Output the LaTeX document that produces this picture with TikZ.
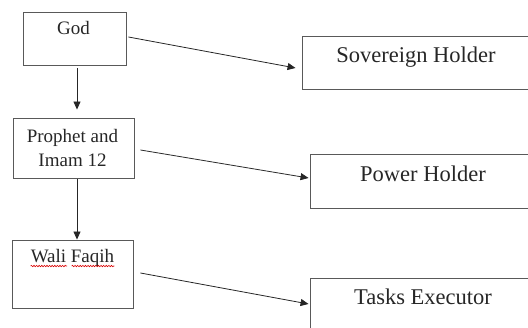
\documentclass[tikz,border=0pt]{standalone}
\usepackage{fontspec}
\setmainfont{Liberation Serif}
\usetikzlibrary{arrows.meta,calc,decorations.pathmorphing}
\begin{document}
\begin{tikzpicture}[x=1pt,y=-1pt,
 box/.style={draw=black!65, line width=0.9pt, inner sep=0pt, rectangle},
 ltext/.style={font=\fontsize{19}{24.5}\selectfont, text=black!85, align=center, inner sep=0pt, anchor=base},
 rtext/.style={font=\fontsize{22.5}{27}\selectfont, text=black!85, inner sep=0pt, anchor=base},
 arr/.style={draw=black!85, line width=0.8pt, -{Triangle[length=8pt,width=7pt]}},
 wave/.style={draw=red!85!black, line width=0.6pt, decorate, decoration={snake, amplitude=0.7pt, segment length=2.6pt}}
]
\useasboundingbox (0,0) rectangle (528,328);
\clip (0,0) rectangle (528,328);

% boxes
\node[box, minimum width=103pt, minimum height=53pt] (god) at (74.5,38.5) {};
\node[box, minimum width=121pt, minimum height=60pt] (proph) at (73.5,148) {};
\node[box, minimum width=121pt, minimum height=68pt] (wali) at (72.5,274) {};
\node[box, minimum width=228pt, minimum height=53pt] (sov) at (416,62.5) {};
\node[box, minimum width=226pt, minimum height=54pt] (pow) at (423,181) {};
\node[box, minimum width=226pt, minimum height=56pt] (task) at (423,306) {};

% texts
\node[ltext] (godt) at ($(god.north)+(-1,23)$) {God};
\node[ltext] (propht) at ($(proph.north)+(-1,49)$) {Prophet and\\Imam 12};
\node[ltext] (walit) at ($(wali.north)+(0,23)$) {Wali Faqih};
\node[rtext] (sovt) at ($(sov.north)+(0,27)$) {Sovereign Holder};
\node[rtext] (powt) at ($(pow.north)+(0,28)$) {Power Holder};
\node[rtext] (taskt) at ($(task.north)+(0,27)$) {Tasks Executor};

% spell-check underlines
\draw[wave] ($(walit.base west)+(0,3.5)$) -- ($(walit.base west)!0.435!(walit.base east)+(0,3.5)$);
\draw[wave] ($(walit.base west)!0.49!(walit.base east)+(0,3.5)$) -- ($(walit.base east)+(0,3.5)$);

% connectors
\draw[arr] ($(god.south)+(2.5,3)$) -- ($(proph.north)+(3.5,-8)$);
\draw[arr] ($(proph.south)+(3.5,1)$) -- ($(wali.north)+(4.5,0)$);
\draw[arr] ($(god.east)+(2,-1.5)$) -- ($(sov.west)+(-6,5.5)$);
\draw[arr] ($(proph.east)+(6,2)$) -- ($(pow.west)+(-1,-3)$);
\draw[arr] ($(wali.east)+(7,-1)$) -- ($(task.west)+(-1,-2)$);
\end{tikzpicture}
\end{document}
